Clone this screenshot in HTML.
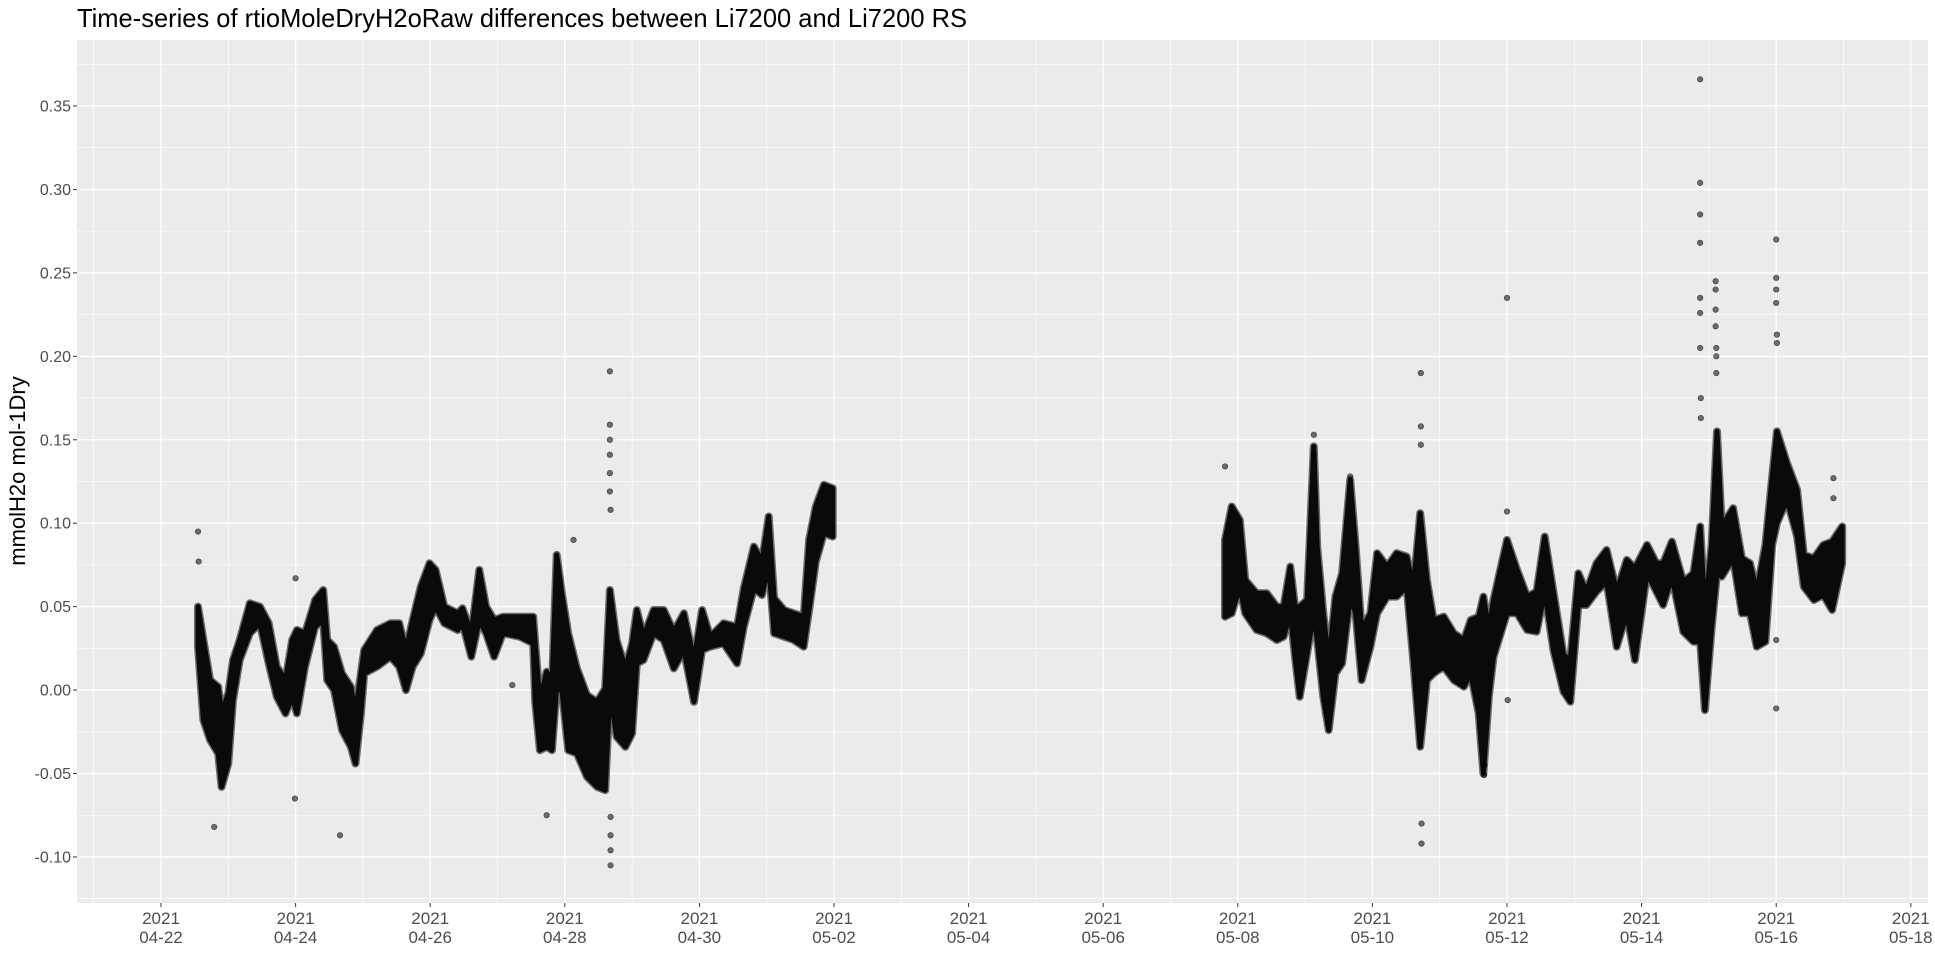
<!DOCTYPE html>
<html><head><meta charset="utf-8"><style>
html,body{margin:0;padding:0;background:#fff;}
svg{display:block;font-family:"Liberation Sans",Arial,sans-serif;}
</style></head><body>
<svg id="chart" width="1935" height="979" viewBox="0 0 1935 979" xmlns="http://www.w3.org/2000/svg">
<text x="77" y="27" font-size="26" fill="#000" textLength="890" lengthAdjust="spacingAndGlyphs">Time-series of rtioMoleDryH2oRaw differences between Li7200 and Li7200 RS</text>
<rect x="77" y="40" width="1851" height="863" fill="#EBEBEB"/>
<g id="grid"></g>
<g id="yaxis"></g>
<g id="xaxis"></g>
<g id="marks"></g>
<text transform="translate(25,471) rotate(-90)" text-anchor="middle" font-size="22" fill="#000">mmolH2o mol-1Dry</text>
</svg>
<script>
// Days since 2021-04-22; envelope [day, low, high]
const seg1Days=[0.55,0.63,0.73,0.85,0.9,1.0,1.07,1.17,1.32,1.47,1.6,1.72,1.85,1.95,2.02,2.14,2.29,2.41,2.47,2.57,2.69,2.82,2.89,2.97,3.02,3.21,3.41,3.54,3.64,3.74,3.86,3.99,4.08,4.21,4.41,4.48,4.61,4.73,4.83,4.95,5.08,5.33,5.53,5.56,5.63,5.73,5.81,5.88,5.96,6.05,6.18,6.33,6.48,6.6,6.67,6.77,6.9,7.0,7.07,7.17,7.32,7.47,7.62,7.77,7.92,8.04,8.16,8.36,8.56,8.66,8.81,8.93,9.03,9.11,9.26,9.4,9.55,9.63,9.73,9.85,9.98];
const seg1Low=[0.026,-0.018,-0.03,-0.038,-0.058,-0.044,-0.006,0.018,0.034,0.04,0.016,-0.004,-0.014,-0.004,-0.014,0.014,0.038,0.042,0.006,0,-0.024,-0.034,-0.044,-0.014,0.01,0.014,0.02,0.014,0,0.014,0.022,0.042,0.05,0.04,0.036,0.04,0.02,0.042,0.034,0.02,0.034,0.032,0.028,-0.007,-0.036,-0.034,-0.036,0.003,-0.001,-0.036,-0.038,-0.052,-0.058,-0.06,0.0,-0.028,-0.034,-0.026,0.016,0.018,0.034,0.03,0.013,0.024,-0.007,0.024,0.026,0.028,0.016,0.038,0.061,0.057,0.075,0.034,0.032,0.03,0.026,0.048,0.077,0.094,0.092];
const seg1High=[0.05,0.03,0.006,0.002,-0.014,-0.002,0.018,0.03,0.052,0.05,0.04,0.014,0.006,0.03,0.036,0.034,0.054,0.06,0.03,0.026,0.01,0.002,-0.014,0.01,0.024,0.036,0.04,0.04,0.024,0.042,0.062,0.076,0.072,0.05,0.046,0.049,0.034,0.072,0.05,0.042,0.044,0.044,0.044,0.028,-0.007,0.011,0.003,0.081,0.057,0.034,0.013,-0.003,-0.007,0.001,0.06,0.03,0.013,0.028,0.048,0.032,0.048,0.048,0.035,0.046,0.018,0.048,0.032,0.04,0.038,0.061,0.086,0.077,0.104,0.055,0.048,0.046,0.044,0.09,0.11,0.123,0.121];
const seg2Days=[15.81,15.91,16.03,16.11,16.28,16.43,16.58,16.68,16.78,16.85,16.92,17.03,17.13,17.18,17.27,17.35,17.45,17.55,17.67,17.75,17.84,17.97,18.07,18.22,18.36,18.51,18.61,18.71,18.81,18.91,19.06,19.21,19.36,19.46,19.58,19.65,19.73,19.8,20.0,20.15,20.3,20.44,20.56,20.69,20.84,20.94,21.06,21.18,21.33,21.48,21.63,21.78,21.9,22.08,22.22,22.32,22.45,22.62,22.77,22.87,22.94,23.04,23.12,23.19,23.36,23.49,23.61,23.71,23.84,23.94,24.01,24.16,24.31,24.41,24.56,24.7,24.83,24.98];
const seg2Low=[0.044,0.046,0.062,0.046,0.036,0.034,0.03,0.032,0.046,0.02,-0.004,0.022,0.046,0.03,-0.004,-0.024,0.01,0.016,0.056,0.046,0.006,0.026,0.046,0.056,0.056,0.062,0.016,-0.034,0.006,0.01,0.014,0.006,0.002,0.01,-0.014,-0.05,-0.004,0.02,0.046,0.046,0.036,0.035,0.059,0.024,-0.001,-0.007,0.051,0.051,0.059,0.065,0.026,0.046,0.018,0.07,0.059,0.051,0.068,0.035,0.029,0.029,-0.012,0.037,0.07,0.068,0.079,0.046,0.046,0.026,0.029,0.087,0.1,0.114,0.092,0.062,0.054,0.057,0.048,0.076];
const seg2High=[0.09,0.11,0.102,0.066,0.058,0.058,0.05,0.05,0.074,0.05,0.05,0.054,0.146,0.086,0.046,0.016,0.056,0.07,0.126,0.086,0.036,0.046,0.082,0.074,0.082,0.08,0.062,0.106,0.066,0.042,0.044,0.034,0.03,0.042,0.044,0.056,0.036,0.054,0.09,0.072,0.056,0.059,0.092,0.059,0.021,0.018,0.07,0.059,0.076,0.084,0.059,0.078,0.073,0.087,0.076,0.076,0.089,0.065,0.07,0.098,0.046,0.087,0.155,0.098,0.109,0.079,0.076,0.059,0.087,0.128,0.155,0.136,0.12,0.081,0.079,0.087,0.089,0.098];
const outlierDays=[0.55,0.56,0.79,1.99,2.0,2.66,5.22,5.73,6.13,6.67,6.67,6.67,6.67,6.67,6.67,6.68,6.68,6.68,6.68,6.68,15.81,17.13,17.13,17.67,18.72,18.72,18.72,18.73,18.73,19.66,19.66,20.0,20.0,20.01,22.87,22.87,22.87,22.87,22.87,22.87,22.87,22.88,22.88,23.1,23.1,23.1,23.1,23.11,23.11,23.11,24.0,24.0,24.0,24.0,24.01,24.01,24.0,24.0,24.85,24.85];
const outlierVals=[0.095,0.077,-0.082,-0.065,0.067,-0.087,0.003,-0.075,0.09,0.191,0.159,0.15,0.141,0.13,0.119,0.108,-0.076,-0.087,-0.096,-0.105,0.134,0.153,0.141,0.128,0.19,0.158,0.147,-0.08,-0.092,-0.045,-0.051,0.235,0.107,-0.006,0.366,0.304,0.285,0.268,0.235,0.226,0.205,0.175,0.163,0.245,0.24,0.228,0.218,0.205,0.2,0.19,0.27,0.247,0.24,0.232,0.213,0.208,-0.011,0.03,0.127,0.115];
const yTicks=[-0.10,-0.05,0.00,0.05,0.10,0.15,0.20,0.25,0.30,0.35];
const yTickLabels=["-0.10","-0.05","0.00","0.05","0.10","0.15","0.20","0.25","0.30","0.35"];
const xTicks=[0,2,4,6,8,10,12,14,16,18,20,22,24,26];
const xTickLabels=["04-22","04-24","04-26","04-28","04-30","05-02","05-04","05-06","05-08","05-10","05-12","05-14","05-16","05-18"];

const NS="http://www.w3.org/2000/svg";
const L=77,R=1928,T=40,B=903;
const xs=d=>161+d*67.3;
const ys=v=>106+(0.35-v)*1668.8;
function mk(tag,attrs,parent){const e=document.createElementNS(NS,tag);for(const k in attrs)e.setAttribute(k,attrs[k]);parent.appendChild(e);return e;}
const grid=document.getElementById('grid'),ya=document.getElementById('yaxis'),xa=document.getElementById('xaxis'),marks=document.getElementById('marks');
for(let i=0;i<yTicks.length+1;i++){const v=yTicks[0]-0.025+i*0.05;const y=ys(v);if(y<T||y>B)continue;
 const l=mk('line',{x1:L,x2:R,y1:y,y2:y,stroke:'#fff','stroke-width':0.6},grid);
 }
for(let i=0;i<=xTicks.length;i++){const d=xTicks[0]-1+i*2;const x=xs(d);if(x<L||x>R)continue;
 const l=mk('line',{x1:x,x2:x,y1:T,y2:B,stroke:'#fff','stroke-width':0.6},grid);
 }
yTicks.forEach((v,i)=>{const y=ys(v);
 const g=mk('line',{x1:L,x2:R,y1:y,y2:y,stroke:'#fff','stroke-width':1.3},grid);
 
 const t=mk('line',{x1:73,x2:L,y1:y,y2:y,stroke:'#333','stroke-width':1},ya);
 
 const tx=mk('text',{x:71,y:y+5.5,'text-anchor':'end','font-size':16,fill:'#4D4D4D'},ya);tx.textContent=yTickLabels[i];
 });
xTicks.forEach((d,i)=>{const x=xs(d);
 const g=mk('line',{x1:x,x2:x,y1:T,y2:B,stroke:'#fff','stroke-width':1.3},grid);
 
 const t=mk('line',{x1:x,x2:x,y1:B,y2:B+4,stroke:'#333','stroke-width':1},xa);
 
 const tx=mk('text',{x:x,y:924,'text-anchor':'middle','font-size':17,fill:'#4D4D4D'},xa);
 
 const a=mk('tspan',{x:x,dy:0},tx);a.textContent='2021';
 const b=mk('tspan',{x:x,dy:19},tx);b.textContent=xTickLabels[i];});
function band(days,low,high,name){let p='';
 days.forEach((d,i)=>{p+=(i?'L':'M')+xs(d).toFixed(1)+','+ys(high[i]).toFixed(1);});
 for(let i=days.length-1;i>=0;i--)p+='L'+xs(days[i]).toFixed(1)+','+ys(low[i]).toFixed(1);
 p+='Z';
 const h=mk('path',{d:p,fill:'none',stroke:'rgba(0,0,0,0.55)','stroke-width':8,'stroke-linejoin':'round'},marks);
 
 const e=mk('path',{d:p,fill:'#0a0a0a',stroke:'#0a0a0a','stroke-width':5,'stroke-linejoin':'round'},marks);
 }
band(seg1Days,seg1Low,seg1High,'points-cluster-april');
band(seg2Days,seg2Low,seg2High,'points-cluster-may');
outlierDays.forEach((d,i)=>{const c=mk('circle',{cx:xs(d),cy:ys(outlierVals[i]),r:2.8,fill:'rgba(0,0,0,0.55)',stroke:'rgba(0,0,0,0.6)','stroke-width':0.6},marks);
 });
</script>
</body></html>
